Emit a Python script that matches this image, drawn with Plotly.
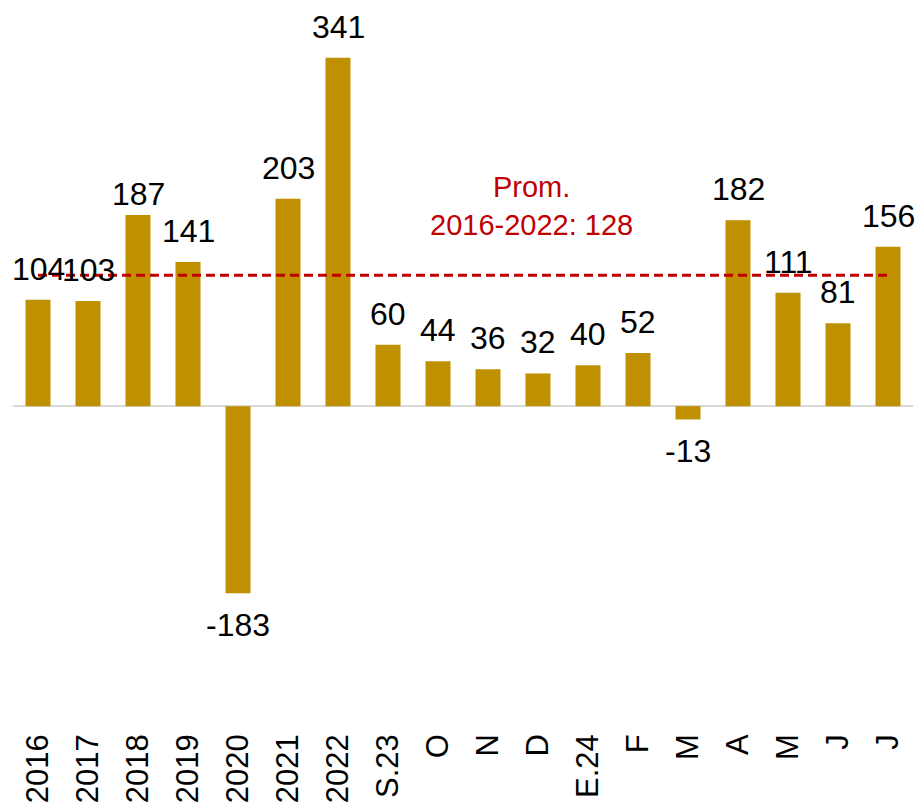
import plotly.graph_objects as go

categories = ["2016", "2017", "2018", "2019", "2020", "2021", "2022", "S.23", "O", "N",
              "D", "E.24", "F", "M", "A", "M", "J", "J"]
values = [104, 103, 187, 141, -183, 203, 341, 60, 44, 36, 32, 40, 52, -13, 182, 111, 81, 156]
avg_value = 128
avg_text = "Prom.<br>2016-2022: 128"

FONT = "Arial, 'Liberation Sans', sans-serif"
GOLD = "#BF9000"
RED = "#C00000"
# label placement tweak (the 2018 label sits closer to its bar in the original)
extra_shift = {2: -10}

xpos = list(range(len(categories)))

fig = go.Figure()
fig.add_trace(go.Bar(
    x=xpos, y=values,
    marker=dict(color=GOLD, line=dict(width=0)),
    showlegend=False,
))
fig.add_trace(go.Scatter(
    x=xpos, y=[avg_value] * len(categories),
    mode="lines",
    line=dict(color=RED, width=3, dash="9px,5px"),
    showlegend=False, hoverinfo="skip",
))
for i, v in zip(xpos, values):
    fig.add_annotation(
        x=i, y=v, xref="x", yref="y",
        text=str(v), showarrow=False,
        yanchor="bottom" if v >= 0 else "top",
        yshift=(11 if v >= 0 else -12) + extra_shift.get(i, 0),
        font=dict(family=FONT, size=32, color="black"),
    )
fig.add_annotation(
    x=0.576, xref="paper", y=196, yref="y",
    text=avg_text, showarrow=False,
    font=dict(family=FONT, size=29, color=RED),
    align="center",
)
fig.update_layout(
    width=918, height=804,
    margin=dict(l=12.5, r=4.5, t=10, b=77),
    plot_bgcolor="white", paper_bgcolor="white",
    bargap=0.5,
    font=dict(family=FONT, color="black"),
)
fig.update_xaxes(
    tickmode="array", tickvals=xpos, ticktext=categories,
    tickangle=-90, automargin=False,
    range=[-0.5, len(categories) - 0.5],
    tickfont=dict(family=FONT, size=31, color="black"),
    showgrid=False, showline=False, zeroline=False, ticks="",
)
fig.update_yaxes(
    range=[-313.9, 387.6], automargin=False, showticklabels=False,
    showgrid=False, zeroline=True, zerolinecolor="#D9D9D9", zerolinewidth=2,
    showline=False, ticks="",
)
fig.write_html(
    "out.html",
    config={"displayModeBar": False},
    post_script="document.body.style.margin='0px';document.body.style.overflow='hidden';",
)
